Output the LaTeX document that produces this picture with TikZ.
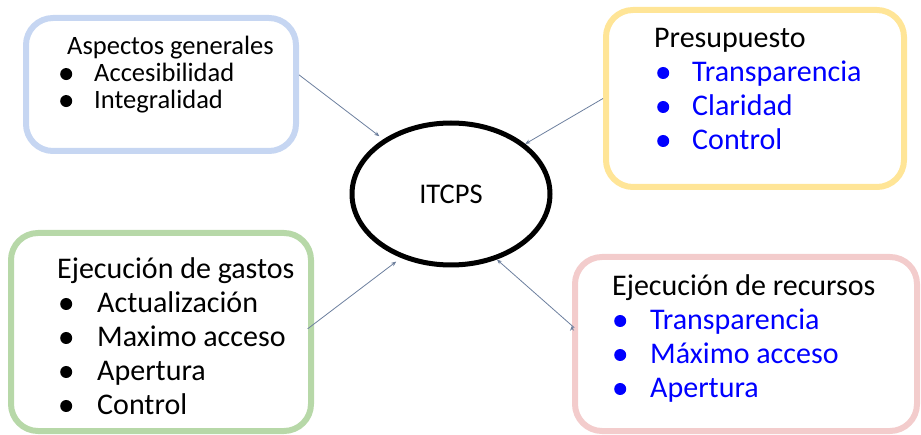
\documentclass[tikz,border=0pt]{standalone}
\usepackage{fontspec}
\setmainfont{Carlito}
\usetikzlibrary{arrows.meta, shapes.geometric, positioning}

\definecolor{boxblue}{HTML}{C6D6F2}
\definecolor{boxyellow}{HTML}{FFE597}
\definecolor{boxgreen}{HTML}{B7D8A8}
\definecolor{boxpink}{HTML}{F3CCCC}
\definecolor{linkgray}{HTML}{6C7F9E}
\definecolor{itemblue}{HTML}{0000FF}

% bullet: shift, column width
\newcommand{\bul}[2]{\makebox[#2][l]{\hspace*{#1}\tikz[baseline=0pt]\fill (6pt,0.3em) circle (6pt);}}

\begin{document}
\begin{tikzpicture}[x=1pt, y=-1pt,
    box/.style = {draw=#1, line width=6pt, rounded corners=27pt, inner sep=0pt},
    lst/.style = {anchor=base west, inner sep=0pt, align=left},
    center/.style = {ellipse, draw, line width=5pt, minimum width=198pt,
                     minimum height=142pt, inner sep=0pt, font=\fontsize{28.5}{34}\selectfont},
    conn/.style = {draw=linkgray, line width=0.8pt, -{Stealth[length=5pt, width=4pt]}}]
  \useasboundingbox (0,0) rectangle (921,435);

  \node[center] (itcps) at (451,194) {ITCPS};

  \node[box=boxblue, minimum width=270pt, minimum height=133pt] (gen) at (161,84.5) {};
  \node[box=boxyellow, minimum width=298pt, minimum height=177pt] (pres) at (755,98.5) {};
  \node[box=boxgreen, minimum width=300pt, minimum height=198pt] (gas) at (161,332) {};
  \node[box=boxpink, minimum width=342pt, minimum height=174pt] (rec) at (746,344) {};

  % box texts
  \node[lst, font=\fontsize{26.5}{27}\selectfont] (genT) at (67,55) {%
    \begin{tabular}[t]{@{}l@{}l@{}}
      \multicolumn{2}{@{}l@{}}{Aspectos generales}\\
      \bul{-7pt}{27pt} & Accesibilidad\\
      \bul{-7pt}{27pt} & Integralidad
    \end{tabular}};
  \node[lst, text=itemblue, font=\fontsize{30}{34}\selectfont] (presT) at (654,48) {%
    \begin{tabular}[t]{@{}l@{}l@{}}
      \multicolumn{2}{@{}l@{}}{\textcolor{black}{Presupuesto}}\\
      \bul{3pt}{38pt} & Transparencia\\
      \bul{3pt}{38pt} & Claridad\\
      \bul{3pt}{38pt} & Control
    \end{tabular}};
  \node[lst, font=\fontsize{30}{34}\selectfont] (gasT) at (57,279) {%
    \begin{tabular}[t]{@{}l@{}l@{}}
      \multicolumn{2}{@{}l@{}}{Ejecución de gastos}\\
      \bul{3pt}{40pt} & Actualización\\
      \bul{3pt}{40pt} & Maximo acceso\\
      \bul{3pt}{40pt} & Apertura\\
      \bul{3pt}{40pt} & Control
    \end{tabular}};
  \node[lst, text=itemblue, font=\fontsize{30}{34}\selectfont] (recT) at (612,296) {%
    \begin{tabular}[t]{@{}l@{}l@{}}
      \multicolumn{2}{@{}l@{}}{\textcolor{black}{Ejecución de recursos}}\\
      \bul{2pt}{38pt} & Transparencia\\
      \bul{2pt}{38pt} & Máximo acceso\\
      \bul{2pt}{38pt} & Apertura
    \end{tabular}};

  \path[conn]
    (gen.4) edge[shorten >=5pt] (itcps.141)
    (pres.west) edge (itcps.34)
    (gas.3) edge[shorten >=6pt, shorten <=-8pt] (itcps.232)
    (rec.174) edge[shorten <=-3pt] (itcps.305);
\end{tikzpicture}
\end{document}
